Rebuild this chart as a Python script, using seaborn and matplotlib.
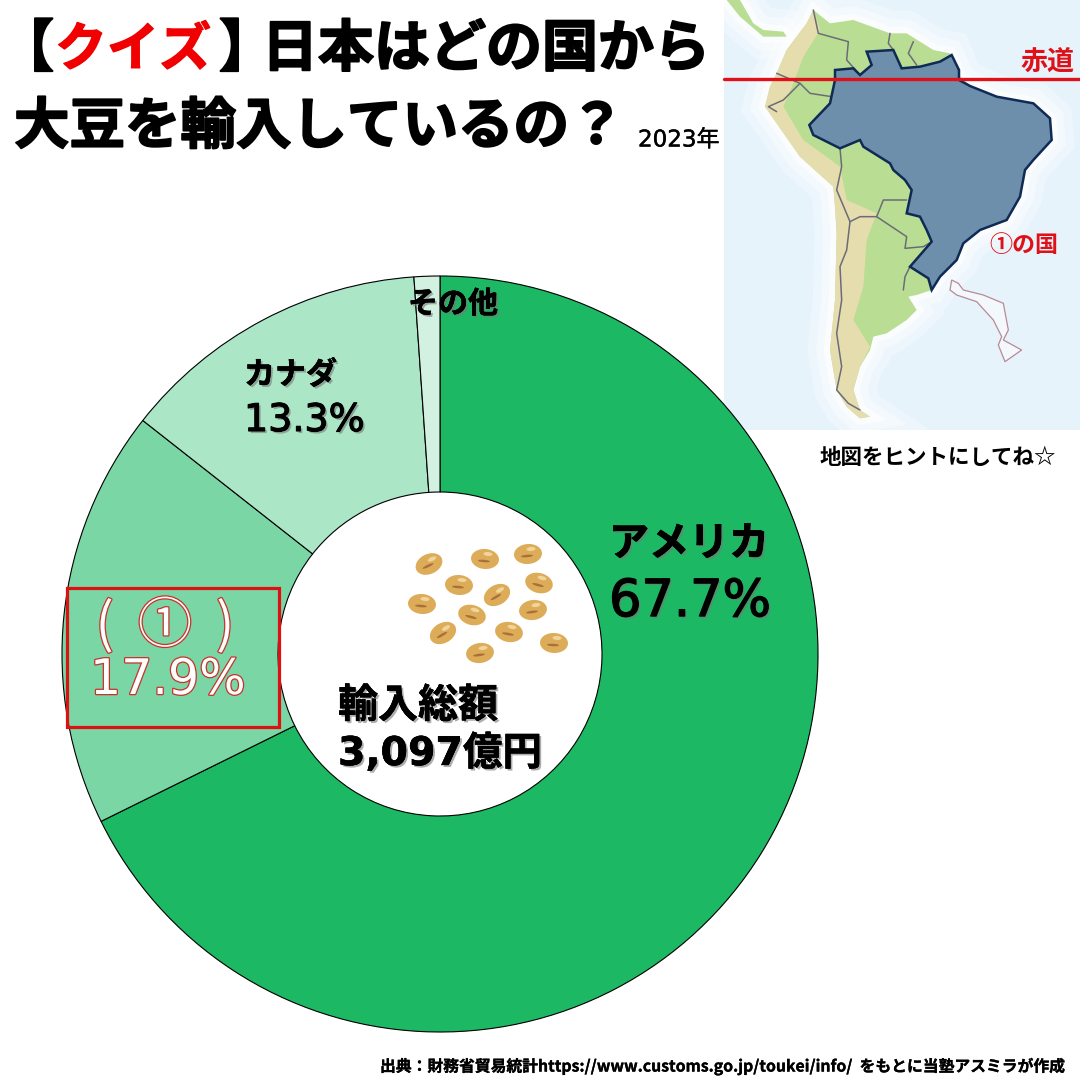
import matplotlib
matplotlib.use("Agg")
import matplotlib.pyplot as plt
import matplotlib.patheffects as pe
from matplotlib.patches import Ellipse, Polygon, Rectangle
import seaborn as sns

# data
countries = ["アメリカ", "(  ①  )", "カナダ", "その他"]
shares = [67.7, 17.9, 13.3, 1.1]
share_colors = ["#1DB863", "#7AD6A4", "#ABE6C6", "#D2F1E0"]
total_label = "3,097億円"
source = "出典：財務省貿易統計https://www.customs.go.jp/toukei/info/  をもとに当塾アスミラが作成"

# map outlines (crop pixels, 3x)
land = [(280,30),(330,70),(400,60),(510,100),(560,100),(640,150),(690,160),(720,230),(750,255),(830,290),
        (940,310),(990,355),(995,420),(940,480),(915,510),(900,590),(860,660),(780,690),(730,730),(710,780),
        (660,830),(635,870),(590,885),(565,890),(590,930),(560,960),(500,1000),(460,1010),(450,1050),(420,1100),
        (400,1170),(420,1230),(450,1250),(420,1255),(380,1220),(350,1170),(330,1050),(345,900),(350,700),(345,620),
        (340,560),(240,470),(170,370),(135,320),(150,260),(170,220),(200,150),(260,70)]
panama = [(20,0),(60,0),(100,70),(130,90),(190,95),(200,110),(130,110),(60,50)]
andes = [(135,320),(150,260),(170,220),(200,150),(260,70),(280,30),(300,90),(250,170),(220,250),(190,320),
         (250,420),(360,500),(380,600),(470,640),(440,720),(430,860),(400,960),(450,1040),(420,1100),(400,1170),
         (420,1230),(450,1250),(420,1255),(380,1220),(350,1170),(330,1050),(345,900),(350,700),(345,620),(340,560),
         (240,470),(170,370)]
brazil = [(440,155),(520,150),(545,205),(600,200),(660,185),(695,165),(717,210),(717,240),(750,258),(830,290),
          (940,310),(990,355),(995,420),(940,480),(915,510),(900,590),(860,660),(780,690),(730,730),(710,780),
          (660,830),(635,870),(625,835),(570,800),(635,725),(620,690),(600,650),(560,640),(575,570),(555,540),
          (520,510),(510,490),(430,440),(420,420),(360,445),(330,430),(280,405),(268,375),(330,310),(345,240),
          (345,210),(400,205),(420,225),(455,195)]
japan = [(695,840),(715,850),(730,870),(790,885),(850,910),(865,990),(850,1020),(905,1050),(855,1085),(835,1035),
         (845,1010),(820,960),(770,905),(710,885),(690,870)]
borders = [[(280,30),(295,100),(385,125),(380,180),(420,225)],
           [(510,100),(505,130),(520,150)],
           [(580,125),(565,160),(590,195)],
           [(170,220),(240,250),(270,280),(335,290),(330,310)],
           [(240,250),(190,300),(145,320),(170,335)],
           [(360,445),(365,500),(350,570),(390,665)],
           [(390,665),(420,650),(470,650),(560,710),(555,745),(610,740),(635,725)],
           [(470,650),(490,600),(560,600)],
           [(390,665),(380,750),(360,800),(365,900),(350,1000),(365,1100),(350,1170),(385,1210),(420,1230)],
           [(570,800),(555,830),(550,870)]]

# soybeans in the hole
bean_x = [429, 485, 528, 459, 539, 497, 422, 472, 533, 443, 509, 554, 480]
bean_y = [564, 559, 554, 585, 583, 595, 604, 615, 610, 633, 632, 643, 653]
bean_angle = [25, -5, 5, -5, -15, 30, -5, -15, 8, 30, -10, -3, 8]

SIZE = 1080
LATIN_FIRST = ['DejaVu Sans', 'Noto Sans CJK JP']

sns.set_theme(style="white")
plt.rcParams['font.family'] = ['Noto Sans CJK JP', 'DejaVu Sans']

fig = plt.figure(figsize=(10.8, 10.8), dpi=100)
ax = fig.add_axes([0, 0, 1, 1])


def up(y):
    return SIZE - y


def crop(pts):
    # crop pixels of the map -> figure pixels, y up
    return [(720 + x / 3, up(y / 3)) for x, y in pts]


def label(x, y, s, px, color="black", ha="left", weight="bold", family=None, stroke=0.0, shadow=False, edge=None):
    t = ax.text(x, up(y), s, fontsize=px * 0.72, color=color, ha=ha, va="center", fontweight=weight, zorder=10)
    if family:
        t.set_fontfamily(family)
    effects = []
    if shadow:
        effects.append(pe.withSimplePatchShadow(offset=(1.5, -1.5), shadow_rgbFace="#777777", alpha=0.6))
    if stroke or edge:
        effects.append(pe.withStroke(linewidth=stroke, foreground=edge or color))
    if effects:
        t.set_path_effects(effects)
    return t


# map panel
panel = Rectangle((724, up(430)), 356, 430, facecolor="#E6F3FB", edgecolor="none", zorder=1)
ax.add_patch(panel)
for pts in (land, panama):
    for lw, alpha in ((32, 0.3), (20, 0.4), (9, 0.6)):
        glow = Polygon(crop(pts), closed=True, facecolor="none", edgecolor="white", linewidth=lw, alpha=alpha, zorder=1.5)
        ax.add_patch(glow)
        glow.set_clip_path(panel)
    ax.add_patch(Polygon(crop(pts), closed=True, facecolor="#B9DE93", edgecolor="none", zorder=2.1))
ax.add_patch(Polygon(crop(andes), closed=True, facecolor="#E6DDAE", edgecolor="none", zorder=2.2))
for pts in borders:
    xs, ys = zip(*crop(pts))
    ax.plot(xs, ys, color="#6C6C78", linewidth=1.1, zorder=2.5)
ax.add_patch(Polygon(crop(japan), closed=True, facecolor="#F3F8FC", edgecolor="#B88A96", linewidth=0.9, zorder=2.5))
ax.add_patch(Polygon(crop(brazil), closed=True, facecolor="#6E8FAB", edgecolor="#0E2A55", linewidth=1.8, zorder=3))
ax.plot([724, 1080], [up(79), up(79)], color="#E01018", linewidth=2.4, zorder=4)
label(1020, 63, "赤道", 27, color="#E01018")
label(989, 245, "①の国", 23, color="#E01018")
label(820, 457, "地図をヒントにしてね☆", 21.5)

# donut
wedges, _ = ax.pie(shares, colors=sns.color_palette(share_colors), center=(440, up(654)), radius=378,
                   startangle=90, counterclock=False, frame=True,
                   wedgeprops=dict(width=216, edgecolor="black", linewidth=0.8))
for w in wedges:
    w.set_zorder(5)
ax.add_patch(Rectangle((67, up(727)), 212, 139, fill=False, edgecolor="#DD1111", linewidth=2.3, zorder=6))

for x, y, a in zip(bean_x, bean_y, bean_angle):
    ax.add_patch(Ellipse((x, up(y)), 28, 20, angle=a, facecolor="#DDAC58", edgecolor="none", zorder=7))
    ax.add_patch(Ellipse((x + 3, up(y - 5)), 9, 4, angle=a, facecolor="#F0D49A", edgecolor="none", zorder=8))
    ax.add_patch(Ellipse((x - 1, up(y + 2)), 12, 2.5, angle=a, facecolor="#A9703A", edgecolor="none", zorder=8))

# slice labels
label(609, 544, countries[0], 40, stroke=0.6, shadow=True)
label(609, 602, f"{shares[0]}%", 51, family="DejaVu Sans", weight="normal", stroke=1.0, shadow=True)
label(244, 375, countries[2], 31, stroke=0.3, shadow=True)
label(244, 421, f"{shares[2]}%", 38, family="DejaVu Sans", weight="normal", stroke=0.8, shadow=True)
label(408, 304, countries[3], 30, stroke=0.3, shadow=True)
label(165, 626, countries[1], 54, color="white", ha="center", weight="normal", stroke=1.8, edge="#C8322C")
label(90, 680, f"{shares[1]}%", 49, color="white", family="DejaVu Sans", weight="normal", stroke=1.8, edge="#C8322C")
label(338, 706, "輸入総額", 40, stroke=0.3, shadow=True)
label(338, 754, total_label, 39.5, family=LATIN_FIRST, weight="bold", stroke=0.3, shadow=True)

# title
label(-2, 50, "【", 56, stroke=1.4)
label(55, 50, "クイズ", 52, color="#F00000", stroke=1.0)
label(219, 50, "】", 56, stroke=1.4)
label(262, 50, "日本はどの国から", 56, stroke=1.4)
label(14, 127, "大豆を輸入しているの？", 55.5, stroke=1.4)
label(638, 140, "2023年", 23, family=LATIN_FIRST, weight="normal", stroke=0.3)
label(380, 1066, source, 15.8, stroke=0.2)

ax.set_xlim(0, SIZE)
ax.set_ylim(0, SIZE)
ax.set_aspect("auto")
ax.axis("off")

fig.savefig("out.png", dpi=100, facecolor="white")
